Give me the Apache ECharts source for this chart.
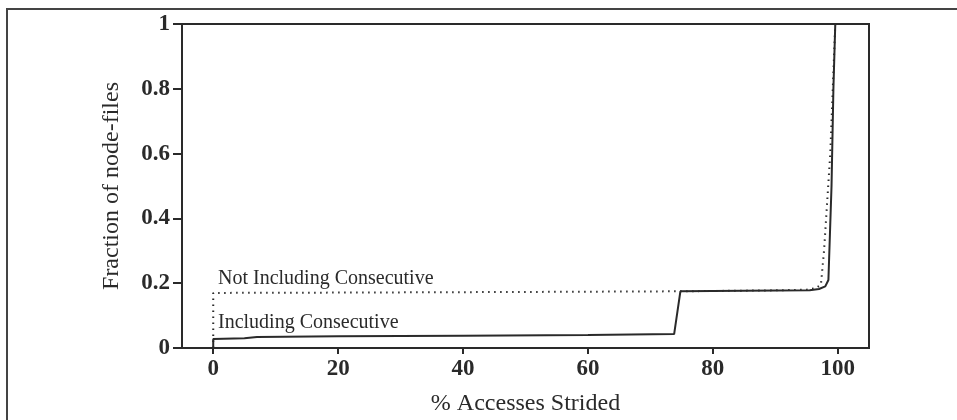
<!DOCTYPE html>
<html>
<head>
<meta charset="utf-8">
<script src="https://cdn.jsdelivr.net/npm/echarts@6/dist/echarts.min.js"></script>
<style>
html,body{margin:0;padding:0;background:#fff;}
#chart{width:957px;height:420px;}
</style>
</head>
<body>
<div id="chart"></div>
<script>
// Tick labels
var xTicks = [0, 20, 40, 60, 80, 100];
// Series: Including Consecutive (solid)
var inclX = [0, 0, 5, 7, 20, 40, 60, 73.8, 74.8, 85, 95.5, 97, 98, 98.5, 99, 99.3, 99.6];
var inclY = [0, 0.028, 0.030, 0.034, 0.036, 0.038, 0.040, 0.043, 0.175, 0.177, 0.178, 0.182, 0.190, 0.21, 0.5, 0.8, 1.0];
// Series: Not Including Consecutive (dotted)
var notX = [0, 0, 20, 50, 75, 90, 95, 96.5, 97.3, 97.8, 98.3, 98.8, 99.2, 99.5, 99.6];
var notY = [0, 0.17, 0.171, 0.173, 0.175, 0.178, 0.180, 0.185, 0.195, 0.30, 0.45, 0.60, 0.80, 0.95, 1.0];

function pairs(xs, ys){ return xs.map(function(x,i){ return [x, ys[i]]; }); }

var ink = '#2a2a2a';
var font = '"Liberation Serif", "DejaVu Serif", serif';

var chart = echarts.init(document.getElementById('chart'), null, {renderer:'canvas'});
chart.setOption({
  animation: false,
  backgroundColor: '#fff',
  grid: {left: 182, right: 88, top: 24, bottom: 72, show: true, borderColor: ink, borderWidth: 2,
         backgroundColor: 'transparent', containLabel: false, outerBoundsMode: 'none'},
  xAxis: {
    type: 'value', min: -5, max: 105,
    name: '% Accesses Strided', nameLocation: 'middle', nameGap: 44,
    nameTextStyle: {fontFamily: font, fontSize: 24, color: ink},
    axisLine: {show: true, onZero: false, lineStyle: {color: ink, width: 2}},
    axisTick: {show: true, length: 6, lineStyle: {color: ink, width: 2}, customValues: xTicks},
    axisLabel: {fontFamily: font, fontSize: 23, fontWeight: 'bold', color: ink, margin: 10, customValues: xTicks},
    splitLine: {show: false}
  },
  yAxis: {
    type: 'value', min: 0, max: 1, interval: 0.2,
    name: 'Fraction of node-files', nameLocation: 'middle', nameGap: 58,
    nameTextStyle: {fontFamily: font, fontSize: 24, color: ink},
    axisLine: {show: true, onZero: false, lineStyle: {color: ink, width: 2}},
    axisTick: {show: true, length: 9, lineStyle: {color: ink, width: 2}},
    axisLabel: {fontFamily: font, fontSize: 23, fontWeight: 'bold', color: ink, margin: 12},
    splitLine: {show: false}
  },
  series: [
    {
      name: 'Including Consecutive', type: 'line', showSymbol: false, symbol: 'none',
      data: pairs(inclX, inclY),
      lineStyle: {color: ink, width: 2},
      z: 3
    },
    {
      name: 'Not Including Consecutive', type: 'line', showSymbol: false, symbol: 'none',
      data: pairs(notX, notY),
      lineStyle: {color: ink, width: 2, type: [1.5, 4.5]},
      z: 2
    }
  ],
  graphic: [
    {type: 'rect', shape: {x: 7, y: 9, width: 1200, height: 800}, style: {fill: 'none', stroke: '#444', lineWidth: 2}, silent: true},
    {type: 'text', left: 218, top: 269, style: {text: 'Not Including Consecutive', font: '20px ' + font, fill: ink}},
    {type: 'text', left: 218, top: 313, style: {text: 'Including Consecutive', font: '20px ' + font, fill: ink}}
  ]
});
</script>
</body>
</html>
